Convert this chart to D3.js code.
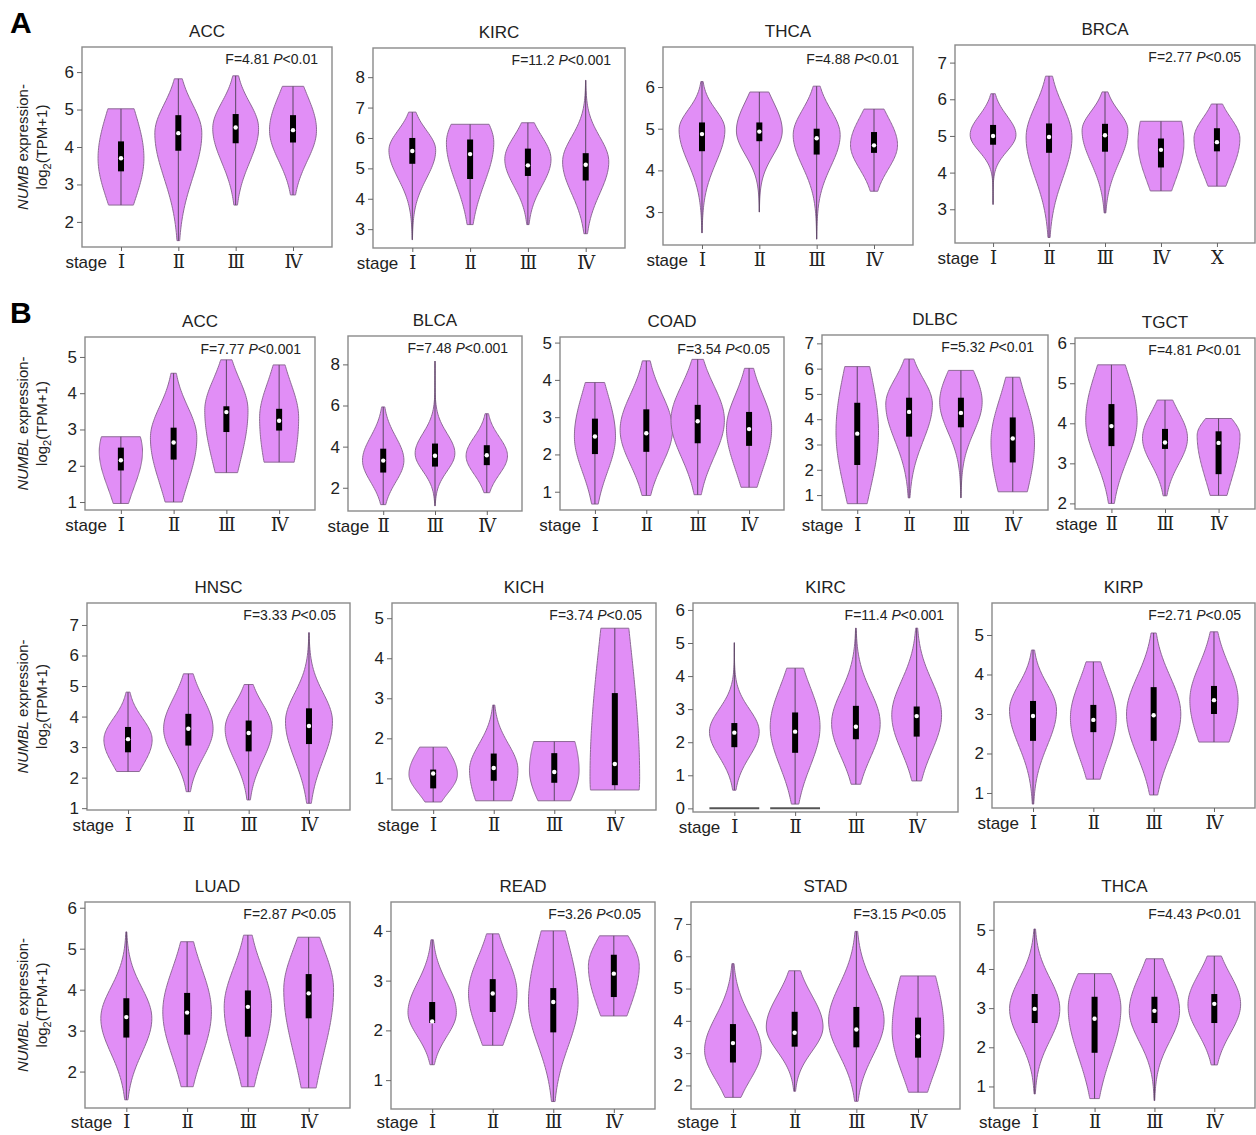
<!DOCTYPE html>
<html>
<head>
<meta charset="utf-8">
<script src="https://cdn.jsdelivr.net/npm/d3@7"></script>
<style>
  body { margin: 0; background: #fff; }
  text { font-family: "Liberation Sans", Arial, sans-serif; fill: #222; }
</style>
</head>
<body>
<div id="chart"></div>
<script>
// ---- data ----
var panelTitles = ["ACC", "KIRC", "THCA", "BRCA",
                   "ACC", "BLCA", "COAD", "DLBC", "TGCT",
                   "HNSC", "KICH", "KIRC", "KIRP",
                   "LUAD", "READ", "STAD", "THCA"];
var panelGenes = ["NUMB", "NUMB", "NUMB", "NUMB",
                  "NUMBL", "NUMBL", "NUMBL", "NUMBL", "NUMBL",
                  "NUMBL", "NUMBL", "NUMBL", "NUMBL",
                  "NUMBL", "NUMBL", "NUMBL", "NUMBL"];
var fValues = ["4.81", "11.2", "4.88", "2.77",
               "7.77", "7.48", "3.54", "5.32", "4.81",
               "3.33", "3.74", "11.4", "2.71",
               "2.87", "3.26", "3.15", "4.43"];
var pValues = ["0.01", "0.001", "0.01", "0.05",
               "0.001", "0.001", "0.05", "0.01", "0.01",
               "0.05", "0.05", "0.001", "0.05",
               "0.05", "0.05", "0.05", "0.01"];
var S4 = ["Ⅰ", "Ⅱ", "Ⅲ", "Ⅳ"];
var panelStages = [S4, S4, S4, ["Ⅰ", "Ⅱ", "Ⅲ", "Ⅳ", "X"],
                   S4, ["Ⅱ", "Ⅲ", "Ⅳ"], S4, S4, ["Ⅱ", "Ⅲ", "Ⅳ"],
                   S4, S4, S4, S4,
                   S4, S4, S4, S4];
var yDomains = [[1.33, 6.67], [2.38, 8.96], [2.21, 6.96], [2.08, 7.48],
                [0.78, 5.55], [0.87, 9.38], [0.51, 5.15], [0.41, 7.33], [1.86, 6.13],
                [0.94, 7.72], [0.21, 5.38], [-0.11, 6.21], [0.62, 5.81],
                [1.11, 6.14], [0.42, 4.58], [1.27, 7.68], [0.45, 5.71]];
var yTicks = [[2, 3, 4, 5, 6], [3, 4, 5, 6, 7, 8], [3, 4, 5, 6], [3, 4, 5, 6, 7],
              [1, 2, 3, 4, 5], [2, 4, 6, 8], [1, 2, 3, 4, 5], [1, 2, 3, 4, 5, 6, 7], [2, 3, 4, 5, 6],
              [1, 2, 3, 4, 5, 6, 7], [1, 2, 3, 4, 5], [0, 1, 2, 3, 4, 5, 6], [1, 2, 3, 4, 5],
              [2, 3, 4, 5, 6], [1, 2, 3, 4], [2, 3, 4, 5, 6, 7], [1, 2, 3, 4, 5]];

// one row per violin: [min, q1, median, q3, max, densest value, peak half-width (share of band), spread below, spread above]
var violinStats = [
  [[2.45, 3.35, 3.7, 4.15, 5.02, 3.7, 0.40, 1.13, 1.25],
   [1.5, 3.9, 4.37, 4.85, 5.82, 4.37, 0.41, 1.2, 0.77],
   [2.45, 4.1, 4.52, 4.88, 5.9, 4.5, 0.40, 0.91, 0.69],
   [2.72, 4.12, 4.45, 4.85, 5.62, 4.45, 0.41, 0.82, 0.93]],
  [[2.65, 5.15, 5.57, 6.0, 6.85, 5.6, 0.405, 0.93, 0.65],
   [3.15, 4.65, 5.47, 5.95, 6.45, 5.85, 0.41, 1.33, 0.9],
   [3.15, 4.75, 5.1, 5.65, 6.5, 5.3, 0.40, 0.88, 0.75],
   [2.85, 4.6, 5.12, 5.5, 7.9, 5.22, 0.40, 1.05, 0.82]],
  [[2.5, 4.46, 4.87, 5.15, 6.13, 4.98, 0.40, 0.8, 0.47],
   [3.0, 4.7, 4.93, 5.15, 5.88, 4.95, 0.40, 0.58, 0.7],
   [2.35, 4.38, 4.77, 5.0, 6.02, 4.85, 0.41, 0.75, 0.6],
   [3.5, 4.42, 4.6, 4.92, 5.47, 4.61, 0.41, 0.58, 0.66]],
  [[3.13, 4.76, 5.0, 5.3, 6.15, 5.03, 0.41, 0.45, 0.52],
   [2.23, 4.54, 4.97, 5.34, 6.63, 4.96, 0.41, 1.1, 0.86],
   [2.9, 4.57, 5.02, 5.33, 6.2, 5.15, 0.41, 0.88, 0.52],
   [3.5, 4.14, 4.62, 4.93, 5.4, 4.8, 0.41, 1.05, 1.3],
   [3.63, 4.58, 4.83, 5.21, 5.87, 4.93, 0.41, 0.95, 0.56]],
  [[0.96, 1.87, 2.15, 2.5, 2.8, 2.4, 0.41, 1.0, 0.87],
   [1.0, 2.17, 2.64, 3.05, 4.55, 2.77, 0.44, 1.25, 0.86],
   [1.81, 2.93, 3.48, 3.64, 4.92, 3.53, 0.41, 1.5, 0.85],
   [2.1, 2.97, 3.24, 3.57, 4.78, 3.32, 0.37, 1.7, 0.95]],
  [[1.18, 2.74, 3.32, 3.9, 5.93, 3.33, 0.40, 1.05, 1.15],
   [1.12, 3.03, 3.56, 4.15, 8.16, 3.67, 0.385, 0.86, 0.97],
   [1.76, 3.1, 3.58, 4.07, 5.6, 3.55, 0.40, 0.9, 0.92]],
  [[0.67, 2.01, 2.48, 2.96, 3.93, 2.48, 0.40, 0.95, 1.18],
   [0.9, 2.07, 2.57, 3.21, 4.51, 2.66, 0.51, 0.93, 0.95],
   [0.92, 2.3, 2.89, 3.33, 4.55, 2.92, 0.52, 1.0, 0.93],
   [1.12, 2.23, 2.68, 3.14, 4.31, 2.7, 0.44, 1.1, 0.9]],
  [[0.66, 2.19, 3.43, 4.65, 6.08, 3.5, 0.41, 2.3, 2.5],
   [0.89, 3.31, 4.29, 4.85, 6.38, 4.6, 0.45, 1.45, 1.0],
   [0.89, 3.68, 4.25, 4.85, 5.93, 4.69, 0.41, 1.2, 1.2],
   [1.13, 2.29, 3.24, 4.07, 5.66, 3.1, 0.42, 2.2, 1.7]],
  [[2.0, 3.43, 3.93, 4.48, 5.46, 4.08, 0.48, 1.0, 1.24],
   [2.19, 3.36, 3.52, 3.86, 4.58, 3.63, 0.42, 0.65, 0.65],
   [2.2, 2.73, 3.51, 3.8, 4.12, 3.7, 0.40, 1.1, 0.42]],
  [[2.2, 2.83, 3.26, 3.66, 4.8, 3.24, 0.40, 0.85, 0.7],
   [1.54, 3.05, 3.6, 4.09, 5.4, 3.6, 0.41, 0.93, 1.0],
   [1.27, 2.86, 3.46, 3.87, 5.05, 3.6, 0.39, 1.02, 0.8],
   [1.16, 3.1, 3.69, 4.27, 6.75, 3.84, 0.39, 1.25, 0.93]],
  [[0.41, 0.75, 1.12, 1.22, 1.78, 1.1, 0.40, 0.47, 0.63],
   [0.44, 0.94, 1.26, 1.62, 2.83, 1.21, 0.40, 1.0, 0.65],
   [0.44, 0.89, 1.16, 1.63, 1.92, 1.2, 0.41, 0.83, 1.18],
   [0.71, 0.83, 1.36, 3.13, 4.75, 1.0, 0.41, 1.5, 3.5]],
  [[0.55, 1.85, 2.29, 2.58, 5.01, 2.32, 0.41, 0.76, 0.68],
   [0.13, 1.68, 2.32, 2.9, 4.24, 2.47, 0.41, 1.2, 1.2],
   [0.73, 2.09, 2.47, 3.1, 5.45, 2.57, 0.40, 1.02, 0.98],
   [0.83, 2.17, 2.79, 3.08, 5.45, 2.82, 0.41, 1.1, 1.04]],
  [[0.72, 2.32, 2.95, 3.33, 4.62, 3.1, 0.39, 0.9, 0.65],
   [1.35, 2.54, 2.85, 3.23, 4.32, 2.9, 0.38, 1.0, 0.94],
   [0.95, 2.32, 2.97, 3.68, 5.05, 3.0, 0.45, 1.05, 0.95],
   [2.29, 3.0, 3.35, 3.71, 5.08, 3.35, 0.40, 1.1, 0.9]],
  [[1.31, 2.83, 3.33, 3.79, 5.41, 3.3, 0.42, 0.85, 0.75],
   [1.63, 2.9, 3.44, 3.92, 5.17, 3.46, 0.40, 1.1, 1.05],
   [1.63, 2.85, 3.58, 3.98, 5.33, 3.58, 0.39, 1.2, 0.95],
   [1.6, 3.3, 3.91, 4.38, 5.28, 4.0, 0.41, 1.55, 1.0]],
  [[1.31, 2.15, 2.18, 2.57, 3.82, 2.36, 0.40, 0.48, 0.6],
   [1.7, 2.37, 2.74, 3.03, 3.94, 2.75, 0.40, 0.8, 0.72],
   [0.57, 1.96, 2.57, 2.85, 4.0, 2.56, 0.41, 0.87, 1.2],
   [2.29, 2.67, 3.14, 3.52, 3.9, 3.29, 0.42, 0.87, 0.57]],
  [[1.63, 2.71, 3.31, 3.9, 5.77, 3.09, 0.46, 0.92, 1.05],
   [1.82, 3.2, 3.63, 4.28, 5.55, 3.81, 0.46, 0.76, 0.98],
   [1.51, 3.18, 3.73, 4.43, 6.77, 4.0, 0.45, 1.06, 1.12],
   [1.79, 2.86, 3.52, 4.1, 5.39, 3.7, 0.42, 1.35, 1.9]],
  [[0.81, 2.62, 2.98, 3.36, 5.02, 2.98, 0.42, 0.8, 0.78],
   [0.69, 1.86, 2.73, 3.29, 3.88, 3.0, 0.44, 1.25, 0.91],
   [0.64, 2.62, 2.93, 3.29, 4.26, 2.93, 0.42, 0.78, 0.9],
   [1.55, 2.62, 3.11, 3.36, 4.33, 3.1, 0.44, 0.75, 0.76]]
];
// KIRC (NUMBL) shows flat bars at 0 under stages I and II
var zeroBarPanel = 11;
var zeroBarStages = ["Ⅰ", "Ⅱ"];

// ---- layout: frame of each panel [left, top, right, bottom] ----
var panelBoxes = [
  [82, 47, 332, 247], [373, 48, 625, 248], [663, 47, 913, 245], [955, 45, 1255, 243],
  [85, 337, 315, 510], [348, 336, 522, 511], [560, 337, 784, 510], [822, 335, 1048, 510], [1075, 338, 1255, 509],
  [87, 603, 350, 810], [392, 603, 656, 810], [693, 603, 958, 812], [992, 603, 1255, 808],
  [85, 902, 350, 1108], [391, 902, 655, 1109], [691, 902, 960, 1109], [994, 902, 1255, 1108]
];
var axisTitlePanels = [0, 4, 9, 13];

var width = 1256,
    height = 1135;

var violinFill = "#e18ef6",
    violinStroke = "#8d6a96";

var svg = d3.select("#chart").append("svg")
    .attr("width", width)
    .attr("height", height)
    .style("background", "#fff");

svg.append("text").attr("x", 10).attr("y", 33)
    .style("font-size", "30px").style("font-weight", "bold").style("fill", "#000").text("A");
svg.append("text").attr("x", 10).attr("y", 323)
    .style("font-size", "30px").style("font-weight", "bold").style("fill", "#000").text("B");

panelTitles.forEach(function (title, p) {
    var box = panelBoxes[p];
    var g = svg.append("g");
    // stage labels sit ~21px under the frame, but never past the page bottom
    var labelY = Math.min(box[3] + 21, height - 7);

    var x = d3.scalePoint()
        .domain(panelStages[p])
        .range([box[0], box[2]])
        .padding(0.68);
    var y = d3.scaleLinear()
        .domain(yDomains[p])
        .range([box[3], box[1]]);
    var band = x.step();

    // frame
    g.append("rect")
        .attr("x", box[0]).attr("y", box[1])
        .attr("width", box[2] - box[0]).attr("height", box[3] - box[1])
        .attr("fill", "none")
        .attr("stroke", "#8a8a8a")
        .attr("stroke-width", 1.4);

    // y axis
    var yAxis = g.append("g")
        .attr("transform", "translate(" + box[0] + ",0)")
        .call(d3.axisLeft(y).tickValues(yTicks[p]).tickSize(5).tickPadding(3).tickFormat(d3.format("d")));
    yAxis.select(".domain").remove();
    yAxis.selectAll(".tick line").attr("stroke", "#666");
    yAxis.selectAll(".tick text")
        .style("font-size", "17px")
        .style("font-family", "'Liberation Sans', Arial, sans-serif")
        .attr("fill", "#222");

    // x axis ticks + roman numerals
    var xAxis = g.append("g")
        .attr("transform", "translate(0," + box[3] + ")")
        .call(d3.axisBottom(x).tickSize(4).tickPadding(5));
    xAxis.select(".domain").remove();
    xAxis.selectAll(".tick line").attr("stroke", "#666");
    xAxis.selectAll(".tick text")
        .attr("y", labelY - box[3]).attr("dy", null)
        .style("font-size", "18px")
        .style("font-family", "'DejaVu Serif', 'Liberation Serif', serif")
        .attr("fill", "#111");

    g.append("text")
        .attr("x", x(panelStages[p][0]) - 14)
        .attr("y", labelY)
        .attr("text-anchor", "end")
        .style("font-size", "17px")
        .text("stage");

    // title and F statistic
    g.append("text")
        .attr("x", (box[0] + box[2]) / 2)
        .attr("y", box[1] - 10)
        .attr("text-anchor", "middle")
        .style("font-size", "17px")
        .text(title);

    var stat = g.append("text")
        .attr("x", box[2] - 14)
        .attr("y", box[1] + 17)
        .attr("text-anchor", "end")
        .style("font-size", "14px");
    stat.append("tspan").text("F=" + fValues[p] + " ");
    stat.append("tspan").style("font-style", "italic").text("P");
    stat.append("tspan").text("<" + pValues[p]);

    // flat bars at zero
    if (p === zeroBarPanel) {
        g.selectAll(".zero-bar")
            .data(zeroBarStages)
            .enter().append("line")
            .attr("x1", function (d) { return x(d) - band * 0.41; })
            .attr("x2", function (d) { return x(d) + band * 0.41; })
            .attr("y1", y(0)).attr("y2", y(0))
            .attr("stroke", "#555")
            .attr("stroke-width", 2);
    }

    // violins
    var violins = violinStats[p].map(function (s, i) {
        var v = { stage: panelStages[p][i], min: s[0], q1: s[1], med: s[2], q3: s[3], max: s[4],
                  peak: s[5], w: s[6], sLo: s[7], sHi: s[8] };
        v.profile = d3.range(0, 61).map(function (k) {
            var val = v.min + (v.max - v.min) * k / 60;
            var sd = val < v.peak ? v.sLo : v.sHi;
            var z = (val - v.peak) / sd;
            return { val: val, half: v.w * band * Math.exp(-0.5 * z * z) };
        });
        return v;
    });

    var vg = g.selectAll(".violin")
        .data(violins)
        .enter().append("g")
        .attr("class", "violin");

    vg.append("path")
        .attr("d", function (d) {
            var cx = x(d.stage);
            return d3.area()
                .curve(d3.curveBasis)
                .y(function (e) { return y(e.val); })
                .x0(function (e) { return cx - e.half; })
                .x1(function (e) { return cx + e.half; })(d.profile);
        })
        .attr("fill", violinFill)
        .attr("stroke", violinStroke)
        .attr("stroke-width", 1);

    vg.append("line")
        .attr("x1", function (d) { return x(d.stage); })
        .attr("x2", function (d) { return x(d.stage); })
        .attr("y1", function (d) { return y(d.min); })
        .attr("y2", function (d) { return y(d.max); })
        .attr("stroke", "#5b4763")
        .attr("stroke-width", 1);

    vg.append("rect")
        .attr("x", function (d) { return x(d.stage) - 3; })
        .attr("y", function (d) { return y(d.q3); })
        .attr("width", 6)
        .attr("height", function (d) { return y(d.q1) - y(d.q3); })
        .attr("fill", "#000");

    vg.append("circle")
        .attr("cx", function (d) { return x(d.stage); })
        .attr("cy", function (d) { return y(d.med); })
        .attr("r", 2.2)
        .attr("fill", "#fff");

    // y axis title
    if (axisTitlePanels.indexOf(p) >= 0) {
        var cy = (box[1] + box[3]) / 2;
        var t1 = svg.append("text")
            .attr("transform", "translate(28," + cy + ") rotate(-90)")
            .attr("text-anchor", "middle")
            .style("font-size", "15px");
        t1.append("tspan").style("font-style", "italic").text(panelGenes[p]);
        t1.append("tspan").text(" expression-");
        var t2 = svg.append("text")
            .attr("transform", "translate(47," + cy + ") rotate(-90)")
            .attr("text-anchor", "middle")
            .style("font-size", "15px");
        t2.append("tspan").text("log");
        t2.append("tspan").attr("dy", 4).style("font-size", "11px").text("2");
        t2.append("tspan").attr("dy", -4).text("(TPM+1)");
    }
});
</script>
</body>
</html>
